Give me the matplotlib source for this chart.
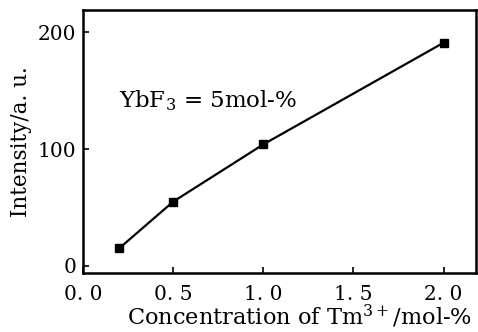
import numpy as np
import matplotlib.pyplot as plt

plt.rcParams['font.family'] = ['DejaVu Serif']
plt.rcParams['mathtext.fontset'] = 'dejavuserif'

conc = [0.2, 0.5, 1.0, 2.0]
intensity = [15, 55, 104, 191]
xticks = [0.0, 0.5, 1.0, 1.5, 2.0]
xticklabels = ['0. 0', '0. 5', '1. 0', '1. 5', '2. 0']
yticks = [0, 100, 200]

fig = plt.figure(figsize=(4.78, 3.32), dpi=100)
ax = fig.add_axes([83/478, 1-273/332, (476-83)/478, (273-10)/332])

ax.plot(conc, intensity, '-s', color='black', lw=1.6, ms=6)
ax.set_xlim(0.02, 2.18)
ax.set_ylim(-6, 219)
ax.set_xticks(xticks)
ax.set_xticklabels(xticklabels)
ax.set_yticks(yticks)
ax.tick_params(direction='in', length=4, width=1.2, labelsize=14.5)
ax.tick_params(axis='x', pad=9)
ax.tick_params(axis='y', pad=5)
for s in ax.spines.values():
    s.set_linewidth(1.8)

ax.text(0.2, 136, 'YbF$_3$ = 5mol-%', fontsize=16.5, va='baseline')
ax.set_xlabel('Concentration of Tm$^{3+}$/mol-%', fontsize=16.2)
ax.xaxis.set_label_coords(0.55, -0.115)
ax.set_ylabel('Intensity/a. u.', fontsize=15.5, labelpad=4)

fig.savefig('out.png', dpi=100)
